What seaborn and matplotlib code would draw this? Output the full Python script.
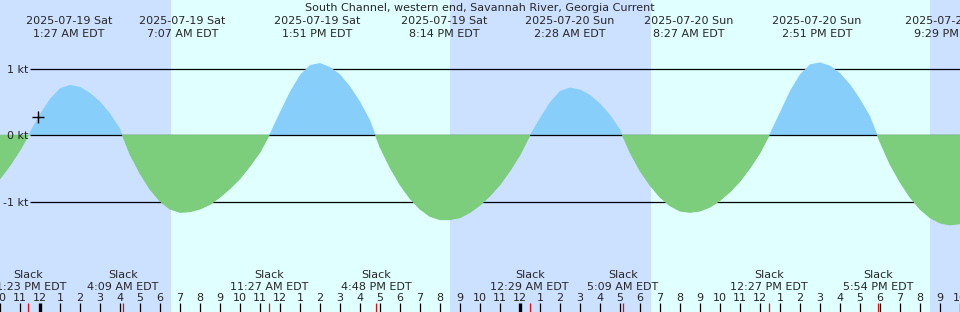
import numpy as np
import pandas as pd
import matplotlib
matplotlib.use("Agg")
import matplotlib.pyplot as plt
import matplotlib.transforms as mtransforms
import seaborn as sns

# Current speed (knots) every 30 minutes from 2025-07-18 22:00 EDT
current_kt = [-0.65, -0.45, -0.22, 0.05, 0.32, 0.55, 0.71, 0.76, 0.73, 0.64, 0.51, 0.33, 0.10,
              -0.28, -0.57, -0.81, -0.99, -1.11, -1.16, -1.15, -1.11, -1.04, -0.93, -0.80, -0.65,
              -0.46, -0.25, 0.03, 0.35, 0.66, 0.91, 1.06, 1.09, 1.03, 0.92, 0.74, 0.51, 0.23,
              -0.17, -0.48, -0.74, -0.95, -1.11, -1.22, -1.27, -1.27, -1.24, -1.16, -1.05, -0.91,
              -0.74, -0.53, -0.29, 0.01, 0.26, 0.50, 0.67, 0.72, 0.69, 0.61, 0.48, 0.31, 0.09,
              -0.25, -0.53, -0.75, -0.93, -1.06, -1.14, -1.16, -1.14, -1.08, -0.98, -0.85, -0.69,
              -0.49, -0.26, 0.03, 0.35, 0.67, 0.92, 1.07, 1.10, 1.05, 0.94, 0.77, 0.55, 0.29,
              -0.09, -0.43, -0.70, -0.93, -1.11, -1.24, -1.32, -1.35, -1.33]
series_start = "2025-07-18 22:00"

title = "South Channel, western end, Savannah River, Georgia Current"
extreme_times = ["2025-07-19 01:27", "2025-07-19 07:07", "2025-07-19 13:51", "2025-07-19 20:14",
                 "2025-07-20 02:28", "2025-07-20 08:27", "2025-07-20 14:51", "2025-07-20 21:29"]
slack_times = ["2025-07-18 23:23", "2025-07-19 04:09", "2025-07-19 11:27", "2025-07-19 16:48",
               "2025-07-20 00:29", "2025-07-20 05:09", "2025-07-20 12:27", "2025-07-20 17:54"]
sun_rise = ["2025-07-19 06:33", "2025-07-20 06:33"]
sun_set = ["2025-07-19 20:30", "2025-07-20 20:30"]
hour_labels = [10, 11, 12, 1, 2, 3, 4, 5, 6, 7, 8, 9, 10, 11, 12, 1, 2, 3, 4, 5, 6, 7, 8, 9, 10, 11,
               12, 1, 2, 3, 4, 5, 6, 7, 8, 9, 10, 11, 12, 1, 2, 3, 4, 5, 6, 7, 8, 9, 10]
y_levels = [1, 0, -1]
y_labels = ["1 kt", "0 kt", "-1 kt"]
now_time = "2025-07-18 23:55"
now_kt = 0.28

ref = pd.Timestamp("2025-07-19 00:00")
def hrs(s):
    return (pd.Timestamp(s) - ref) / pd.Timedelta(hours=1)

times = pd.date_range(pd.Timestamp(series_start), periods=len(current_kt), freq="30min")
df = pd.DataFrame({"t": (times - ref) / pd.Timedelta(hours=1), "v": current_kt})
t = df["t"].to_numpy(); v = df["v"].to_numpy()

sns.set_style("white")
plt.rcParams["font.family"] = ["DejaVu Sans"]
FS = 8

W, H = 960, 312
fig = plt.figure(figsize=(9.6, 3.12), dpi=100)
ax = fig.add_axes([0, 0, 1, 1])
ax.set_facecolor("#cce0ff")
x0, x1 = -2, 46
ax.add_patch(plt.Rectangle((0, 0), 1, 1, transform=ax.transAxes, color="#cce0ff", zorder=-1))

for a, b in zip(sun_rise, sun_set):
    ax.axvspan(hrs(a), hrs(b), color="#e0ffff", lw=0, zorder=0)

sns.lineplot(data=df, x="t", y="v", ax=ax, lw=0, legend=False)

for lv in y_levels:
    ax.plot([-0.5, x1], [lv, lv], color="black", lw=0.9, zorder=1.5 if lv else 3,
            solid_capstyle="butt")
ax.fill_between(t, 0, v, where=v >= 0, interpolate=True, color="#87cefa", lw=0, zorder=2)
ax.fill_between(t, 0, v, where=v <= 0, interpolate=True, color="#7ccd7c", lw=0.9,
                edgecolor="#7ccd7c", zorder=4)

ax.set_xlim(x0, x1)
ax.set_ylim(-2.665, 2.041)
ax.axis("off")

for lv, lab in zip(y_levels, y_labels):
    ax.text(-0.6, lv - 4 / 66.3, lab, ha="right", va="baseline", fontsize=FS, zorder=6)

trans = mtransforms.blended_transform_factory(ax.transData, ax.transAxes)
fy = lambda px: 1 - px / H

ax.text(0.5, fy(11), title, transform=ax.transAxes, ha="center", va="baseline", fontsize=FS, zorder=6)
for s in extreme_times:
    ts_ = pd.Timestamp(s)
    xx = hrs(s)
    ax.text(xx, fy(24), ts_.strftime("%Y-%m-%d %a"), transform=trans, ha="center", va="baseline", fontsize=FS, zorder=6)
    ax.text(xx, fy(36.7), ts_.strftime("%-I:%M %p EDT"), transform=trans, ha="center", va="baseline", fontsize=FS, zorder=6)
for s in slack_times:
    ts_ = pd.Timestamp(s)
    xx = hrs(s)
    ax.text(xx, fy(278.3), "Slack", transform=trans, ha="center", va="baseline", fontsize=FS, zorder=6)
    ax.text(xx, fy(290), ts_.strftime("%-I:%M %p EDT"), transform=trans, ha="center", va="baseline", fontsize=FS, zorder=6)
    ax.vlines(xx, 0, fy(303.3), transform=trans, color="red", lw=0.9, zorder=5)

hours = np.arange(x0, x0 + len(hour_labels))
for h, lab in zip(hours, hour_labels):
    ax.text(h, fy(300.7), str(lab), transform=trans, ha="center", va="baseline", fontsize=FS, zorder=6)
    thick = (h % 24 == 0)
    ax.vlines(h, 0, fy(303.3), transform=trans, color="black", lw=2.4 if thick else 0.9, zorder=5)

ax.plot([hrs(now_time)], [now_kt], marker="+", color="black", ms=9, mew=1.0, zorder=6)

fig.savefig("out.png", dpi=100)
